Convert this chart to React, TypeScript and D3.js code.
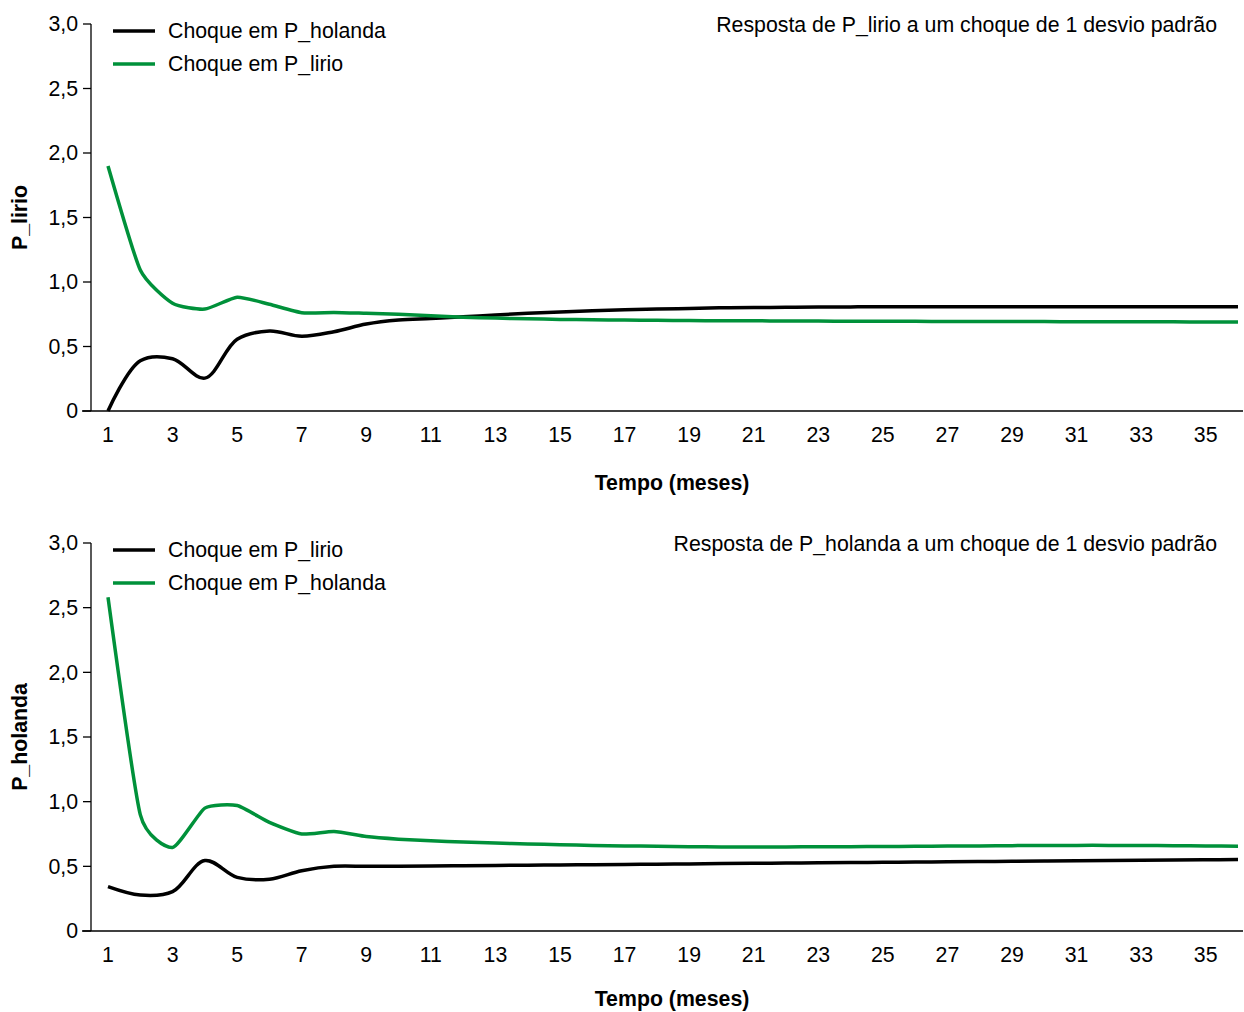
import React from "react";
import * as d3 from "d3";

const months = [1, 2, 3, 4, 5, 6, 7, 8, 9, 10, 11, 12, 13, 14, 15, 16, 17, 18, 19, 20, 21, 22, 23, 24, 25, 26, 27, 28, 29, 30, 31, 32, 33, 34, 35, 36];
const xTickLabels = [1, 3, 5, 7, 9, 11, 13, 15, 17, 19, 21, 23, 25, 27, 29, 31, 33, 35];
const yTicks = [0, 0.5, 1.0, 1.5, 2.0, 2.5, 3.0];

// Panel 1: response of P_lirio
const lirioShockHolanda = [0, 0.39, 0.405, 0.255, 0.556, 0.62, 0.58, 0.615, 0.674, 0.705, 0.717, 0.73, 0.745, 0.757, 0.768, 0.777, 0.784, 0.79, 0.795, 0.8, 0.802, 0.804, 0.806, 0.807, 0.808, 0.808, 0.808, 0.808, 0.808, 0.808, 0.808, 0.808, 0.808, 0.808, 0.808, 0.808];
const lirioShockLirio = [1.9, 1.093, 0.835, 0.79, 0.882, 0.827, 0.762, 0.764, 0.757, 0.75, 0.738, 0.727, 0.72, 0.715, 0.71, 0.707, 0.705, 0.703, 0.701, 0.7, 0.699, 0.698, 0.697, 0.696, 0.695, 0.695, 0.694, 0.694, 0.693, 0.693, 0.692, 0.692, 0.691, 0.691, 0.69, 0.69];

// Panel 2: response of P_holanda
const holandaShockLirio = [0.343, 0.278, 0.304, 0.545, 0.415, 0.4, 0.466, 0.5, 0.5, 0.5, 0.503, 0.505, 0.507, 0.509, 0.511, 0.513, 0.515, 0.517, 0.519, 0.521, 0.523, 0.525, 0.527, 0.529, 0.531, 0.533, 0.535, 0.537, 0.539, 0.541, 0.543, 0.545, 0.547, 0.549, 0.551, 0.553];
const holandaShockHolanda = [2.58, 0.9, 0.645, 0.95, 0.97, 0.84, 0.75, 0.77, 0.73, 0.71, 0.698, 0.688, 0.68, 0.673, 0.667, 0.662, 0.658, 0.655, 0.652, 0.65, 0.65, 0.65, 0.651, 0.652, 0.653, 0.655, 0.657, 0.658, 0.66, 0.661, 0.662, 0.662, 0.661, 0.66, 0.658, 0.655];

const BLACK = "#000000";
const GREEN = "#00913a";
const FONT = "'Liberation Sans', Arial, sans-serif";
const FS = 21.3;

type PanelProps = {
  top: number;
  bottom: number;
  xTitleY: number;
  yTitle: string;
  title: string;
  legend: string[];
  blackData: number[];
  greenData: number[];
};

const x = d3.scaleLinear().domain([1, 36]).range([108, 1238]);

function Panel({ top, bottom, xTitleY, yTitle, title, legend, blackData, greenData }: PanelProps) {
  const y = d3.scaleLinear().domain([0, 3]).range([bottom, top]);
  const blackLine = d3
    .line<number>()
    .x((_, i) => x(months[i]))
    .y((d) => y(d))
    .curve(d3.curveCatmullRom.alpha(0.5));
  const greenLine = d3
    .line<number>()
    .x((_, i) => x(months[i]))
    .y((d) => y(d))
    .curve(d3.curveCardinal.tension(0.45));
  return (
    <g>
      <line x1={91} x2={91} y1={top} y2={bottom} stroke="#000" strokeWidth={1.3} />
      <line x1={82} x2={1243} y1={bottom} y2={bottom} stroke="#000" strokeWidth={1.3} />
      {yTicks.map((t) => (
        <g key={t}>
          <line x1={83} x2={91} y1={y(t)} y2={y(t)} stroke="#000" strokeWidth={1.3} />
          <text x={78} y={y(t)} dy="0.35em" textAnchor="end" fontSize={FS} fontFamily={FONT}>
            {t === 0 ? "0" : t.toFixed(1).replace(".", ",")}
          </text>
        </g>
      ))}
      {xTickLabels.map((t) => (
        <text key={t} x={x(t)} y={bottom + 24} dy="0.35em" textAnchor="middle" fontSize={FS} fontFamily={FONT}>
          {t}
        </text>
      ))}
      <text x={672} y={xTitleY} dy="0.35em" textAnchor="middle" fontSize={FS} fontWeight="bold" fontFamily={FONT}>
        Tempo (meses)
      </text>
      <text
        transform={`translate(20,${(top + bottom) / 2}) rotate(-90)`}
        textAnchor="middle"
        dy="0.35em"
        fontSize={FS}
        fontWeight="bold"
        fontFamily={FONT}
      >
        {yTitle}
      </text>
      <text x={1217} y={top + 1} dy="0.35em" textAnchor="end" fontSize={FS} fontFamily={FONT}>
        {title}
      </text>
      <line x1={113} x2={155} y1={top + 7} y2={top + 7} stroke={BLACK} strokeWidth={3.5} />
      <text x={168} y={top + 7} dy="0.35em" fontSize={FS} fontFamily={FONT}>
        {legend[0]}
      </text>
      <line x1={113} x2={155} y1={top + 40} y2={top + 40} stroke={GREEN} strokeWidth={3.5} />
      <text x={168} y={top + 40} dy="0.35em" fontSize={FS} fontFamily={FONT}>
        {legend[1]}
      </text>
      <path d={blackLine(blackData) || ""} fill="none" stroke={BLACK} strokeWidth={3.5} />
      <path d={greenLine(greenData) || ""} fill="none" stroke={GREEN} strokeWidth={3.5} />
    </g>
  );
}

export default function App() {
  return (
    <div style={{ position: "absolute", left: 0, top: 0 }}>
      <svg width={1244} height={1012} style={{ display: "block", background: "#fff" }}>
        <Panel
          top={24}
          bottom={411}
          xTitleY={483}
          yTitle="P_lirio"
          title="Resposta de P_lirio a um choque de 1 desvio padrão"
          legend={["Choque em P_holanda", "Choque em P_lirio"]}
          blackData={lirioShockHolanda}
          greenData={lirioShockLirio}
        />
        <Panel
          top={543}
          bottom={931}
          xTitleY={999}
          yTitle="P_holanda"
          title="Resposta de P_holanda a um choque de 1 desvio padrão"
          legend={["Choque em P_lirio", "Choque em P_holanda"]}
          blackData={holandaShockLirio}
          greenData={holandaShockHolanda}
        />
      </svg>
    </div>
  );
}
